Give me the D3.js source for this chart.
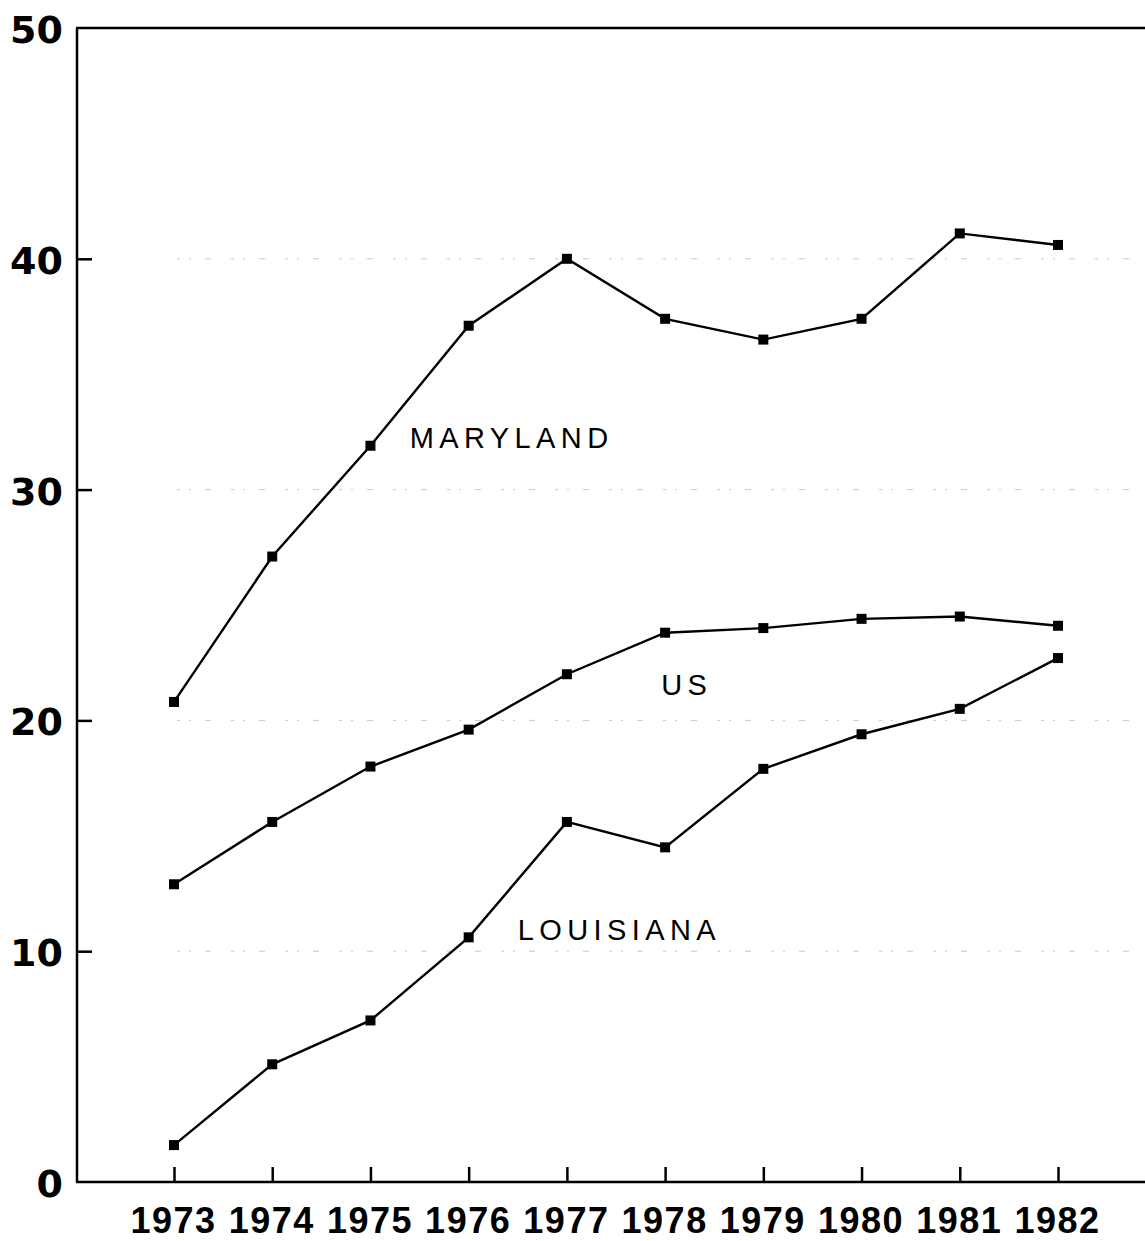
<!DOCTYPE html>
<html>
<head>
<meta charset="utf-8">
<script src="https://cdn.jsdelivr.net/npm/d3@7"></script>
<style>
  html, body { margin: 0; padding: 0; background: #fff; }
  svg { display: block; }
</style>
</head>
<body>
<svg id="chart" width="1145" height="1241"></svg>
<script>
// Years on the horizontal axis
const years = [1973, 1974, 1975, 1976, 1977, 1978, 1979, 1980, 1981, 1982];

// Series values (percent)
const maryland  = [20.8, 27.1, 31.9, 37.1, 40.0, 37.4, 36.5, 37.4, 41.1, 40.6];
const us        = [12.9, 15.6, 18.0, 19.6, 22.0, 23.8, 24.0, 24.4, 24.5, 24.1];
const louisiana = [1.6, 5.1, 7.0, 10.6, 15.6, 14.5, 17.9, 19.4, 20.5, 22.7];

// Vertical axis ticks
const yTicks = [0, 10, 20, 30, 40, 50];

// Series labels placed inside the plot
const seriesLabels = [
  { text: "MARYLAND",  year: 1975.4, value: 31.8 },
  { text: "US",        year: 1977.96, value: 21.1 },
  { text: "LOUISIANA", year: 1976.5, value: 10.5 }
];

const svg = d3.select("#chart");
const plotLeft = 77, plotRight = 1145, plotTop = 28, plotBottom = 1182;

const x = d3.scaleLinear().domain([1973, 1982]).range([174, 1058]);
const y = d3.scaleLinear().domain([0, 50]).range([plotBottom, plotTop]);

// faint broken gridlines
const grid = svg.append("g");
[10, 20, 30, 40].forEach(v => {
  grid.append("line")
    .attr("x1", plotLeft + 100).attr("x2", plotRight)
    .attr("y1", y(v)).attr("y2", y(v))
    .attr("stroke", "#c8c8c8").attr("stroke-width", 1)
    .attr("stroke-dasharray", "3,9,2,14,6,20");
});

// frame: left, bottom and top lines
const frame = svg.append("g").attr("stroke", "#000").attr("stroke-width", 2.5).attr("fill", "none");
frame.append("line").attr("x1", plotLeft).attr("x2", plotLeft).attr("y1", plotTop).attr("y2", plotBottom);
frame.append("line").attr("x1", plotLeft - 1).attr("x2", plotRight).attr("y1", plotBottom).attr("y2", plotBottom);
frame.append("line").attr("x1", plotLeft - 1).attr("x2", plotRight).attr("y1", plotTop).attr("y2", plotTop);

// y axis (ticks pointing inward)
const yAxis = d3.axisLeft(y).tickValues(yTicks).tickSize(-15).tickPadding(30).tickFormat(d3.format("d"));
const yg = svg.append("g").attr("transform", `translate(${plotLeft},0)`).call(yAxis);
yg.select(".domain").remove();
yg.selectAll(".tick line").attr("stroke", "#000").attr("stroke-width", 2.5)
  .filter(d => d === 0 || d === 50).remove();
yg.selectAll(".tick text")
  .attr("font-family", "'DejaVu Sans', sans-serif")
  .attr("font-weight", "bold")
  .attr("font-size", 38)
  .attr("fill", "#000")
  .attr("x", -14)
  .attr("dy", "0.38em");

// x axis (ticks pointing up into the plot)
const xAxis = d3.axisBottom(x).tickValues(years).tickSize(-15).tickPadding(0).tickFormat(d3.format("d"));
const xg = svg.append("g").attr("transform", `translate(0,${plotBottom})`).call(xAxis);
xg.select(".domain").remove();
xg.selectAll(".tick line").attr("stroke", "#000").attr("stroke-width", 2.5);
xg.selectAll(".tick text")
  .attr("font-family", "'Liberation Sans', Arial, sans-serif")
  .attr("font-weight", "bold")
  .attr("font-size", 36)
  .attr("fill", "#000")
  .attr("y", 51)
  .attr("dy", 0)
  .attr("dx", -1)
  .attr("letter-spacing", 1.5);

// series lines and square markers
const line = d3.line().x((d, i) => x(years[i])).y(d => y(d));
[maryland, us, louisiana].forEach(series => {
  svg.append("path")
    .datum(series)
    .attr("d", line)
    .attr("fill", "none")
    .attr("stroke", "#000")
    .attr("stroke-width", 2.4);
  svg.append("g").selectAll("rect")
    .data(series)
    .join("rect")
    .attr("x", (d, i) => x(years[i]) - 5)
    .attr("y", d => y(d) - 5)
    .attr("width", 10)
    .attr("height", 10)
    .attr("fill", "#000");
});

// series labels
svg.append("g").selectAll("text")
  .data(seriesLabels)
  .join("text")
  .attr("x", d => x(d.year))
  .attr("y", d => y(d.value))
  .attr("font-family", "'Liberation Sans', Arial, sans-serif")
  .attr("font-size", 29)
  .attr("letter-spacing", 5.4)
  .attr("fill", "#000")
  .text(d => d.text);
</script>
</body>
</html>
